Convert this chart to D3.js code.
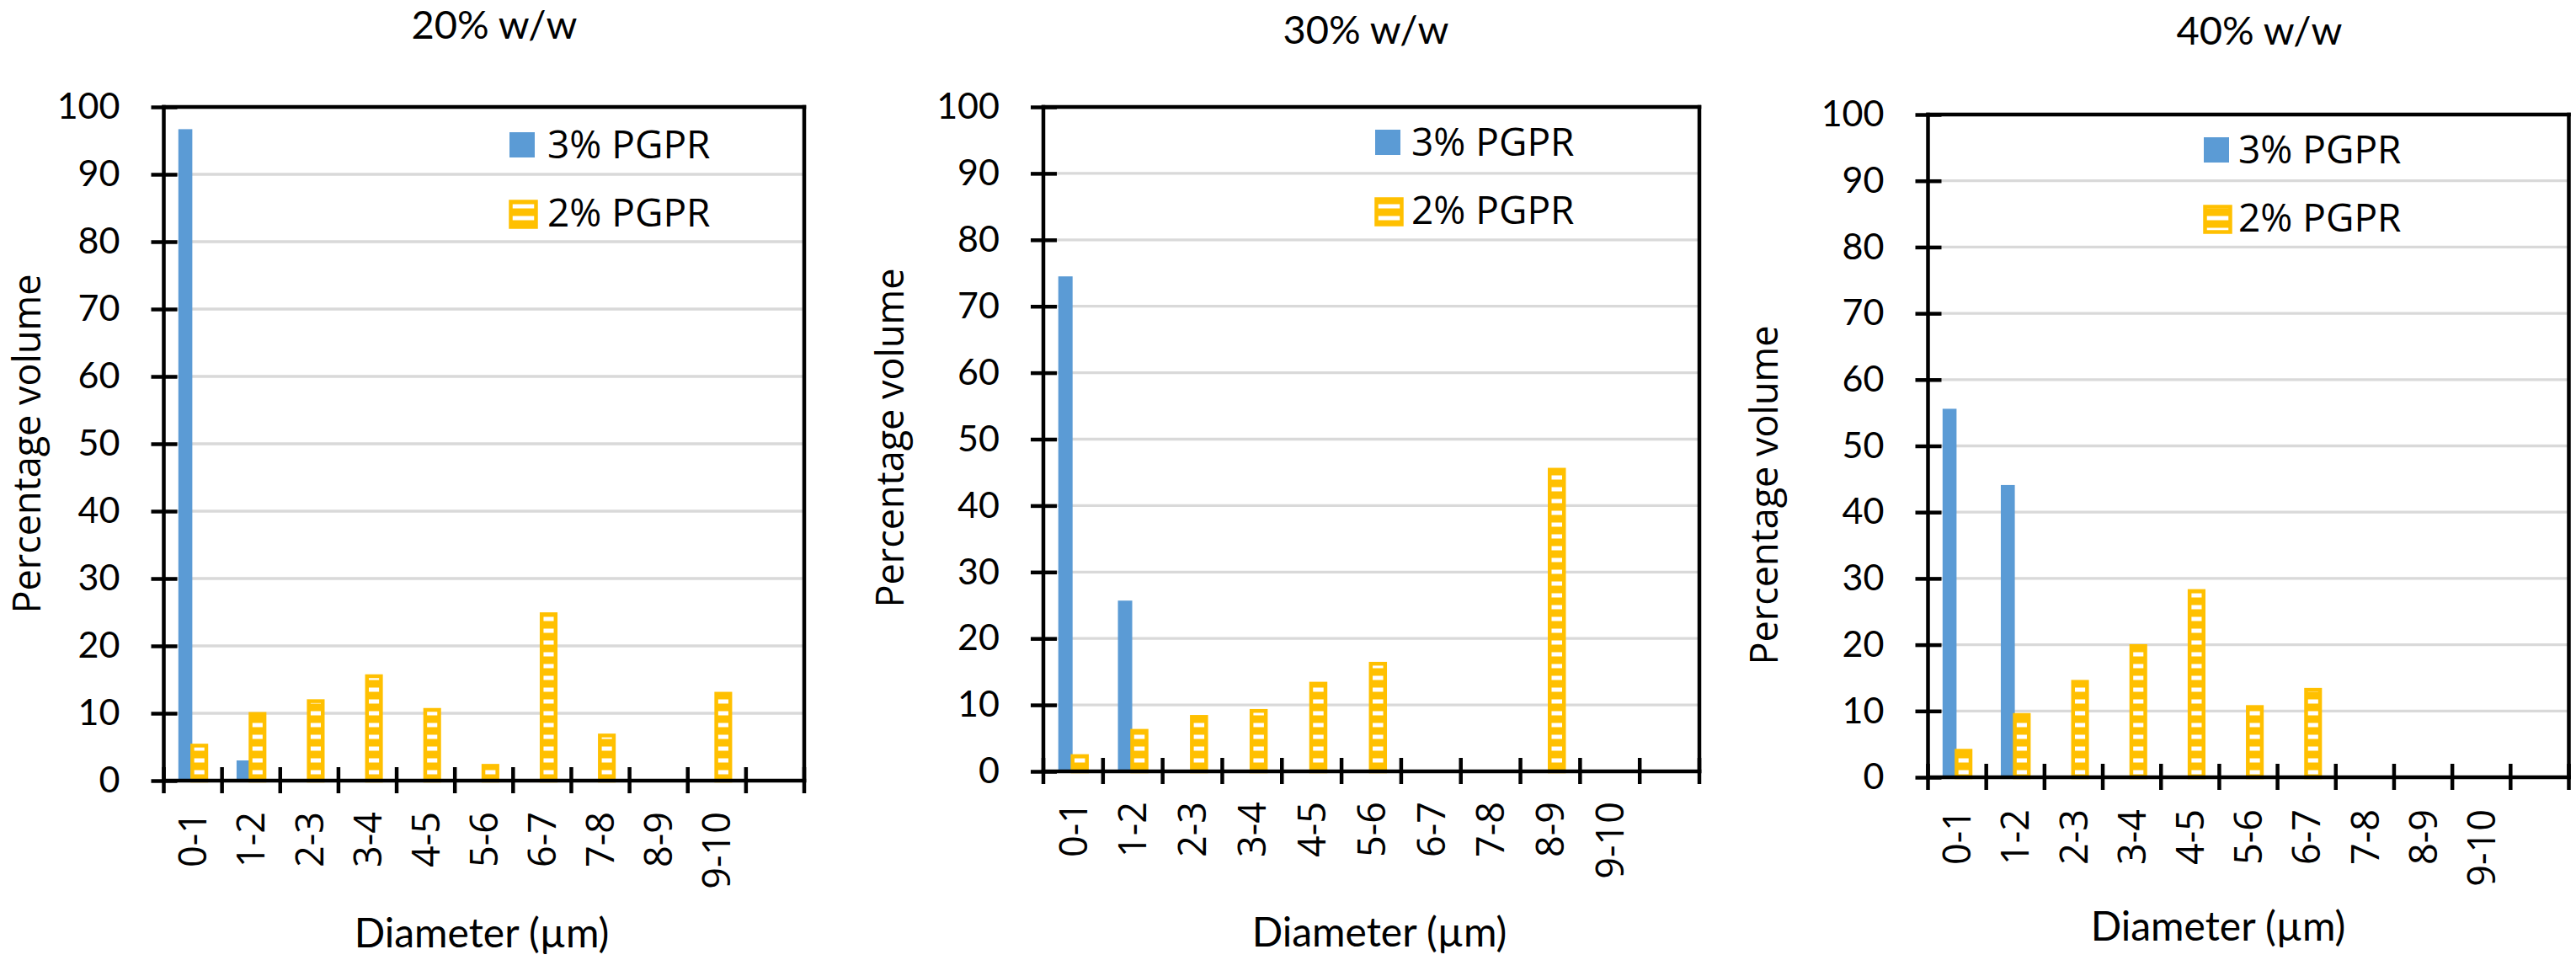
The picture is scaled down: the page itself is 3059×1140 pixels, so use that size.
<!DOCTYPE html>
<html>
<head>
<meta charset="utf-8">
<script src="https://cdn.jsdelivr.net/npm/d3@7"></script>
<style>
  body { margin: 0; background: #fff; }
  svg { display: block; background: #fff; }
</style>
</head>
<body>
<svg id="chart"></svg>
<script>
// 1: DATA
const categories = ["0-1", "1-2", "2-3", "3-4", "4-5", "5-6", "6-7", "7-8", "8-9", "9-10"];
const seriesNames = ["3% PGPR", "2% PGPR"];
const panelTitles = ["20% w/w", "30% w/w", "40% w/w"];
const yTicks = [0, 10, 20, 30, 40, 50, 60, 70, 80, 90, 100];

const pgpr3_20 = [96.7, 3.0, 0, 0, 0, 0, 0, 0, 0, 0];
const pgpr2_20 = [5.2, 9.9, 11.8, 15.5, 10.5, 2.2, 24.7, 6.7, 0, 12.9];

const pgpr3_30 = [74.5, 25.7, 0, 0, 0, 0, 0, 0, 0, 0];
const pgpr2_30 = [2.3, 6.1, 8.2, 9.1, 13.2, 16.2, 0, 0, 45.4, 0];

const pgpr3_40 = [55.6, 44.1, 0, 0, 0, 0, 0, 0, 0, 0];
const pgpr2_40 = [4.0, 9.4, 14.4, 19.8, 28.1, 10.6, 13.2, 0, 0, 0];

// 2: LAYOUT
const W = 3059, H = 1140;
const blue = "#5B9BD5", gold = "#FFC000", grid = "#D9D9D9";
const lineW = 4.5;

const panels = [
  { title: panelTitles[0], s3: pgpr3_20, s2: pgpr2_20, left: 194.5, right: 955, top: 127, bottom: 927,
    titleX: 587, titleY: 46, yTitleX: 48, yTitleY: 527, xLabelY: 964, xTitleX: 572, xTitleY: 1125,
    legX: 605, legY: 157, legTextX: 650 },
  { title: panelTitles[1], s3: pgpr3_30, s2: pgpr2_30, left: 1239, right: 2018, top: 127, bottom: 916,
    titleX: 1622, titleY: 52, yTitleX: 1073, yTitleY: 520, xLabelY: 952, xTitleX: 1638, xTitleY: 1124,
    legX: 1633, legY: 154, legTextX: 1676 },
  { title: panelTitles[2], s3: pgpr3_40, s2: pgpr2_40, left: 2289.5, right: 3050.5, top: 136, bottom: 923,
    titleX: 2683, titleY: 53, yTitleX: 2111, yTitleY: 588, xLabelY: 961, xTitleX: 2634, xTitleY: 1117,
    legX: 2617, legY: 163, legTextX: 2658 }
];

const svg = d3.select("#chart").attr("width", W).attr("height", H);

// ladder-like pattern of the 2% series
const defs = svg.append("defs");
const pat = defs.append("pattern")
  .attr("id", "ladder")
  .attr("patternUnits", "userSpaceOnUse")
  .attr("width", 40)
  .attr("height", 14);
pat.append("rect").attr("width", 40).attr("height", 14).attr("fill", gold);
pat.append("rect").attr("y", 4.5).attr("width", 40).attr("height", 5).attr("fill", "#fff");

const slots = categories.concat([""]);   // Excel leaves one empty slot at the end

panels.forEach(p => {
  const g = svg.append("g");

  // 3: SCALES
  const x0 = d3.scaleBand().domain(slots).range([p.left, p.right]);
  const bw = x0.bandwidth();
  const x1 = d3.scaleBand().domain(seriesNames).range([0.25 * bw, 0.73 * bw]);
  const y = d3.scaleLinear().domain([0, 100]).range([p.bottom, p.top]);

  // gridlines
  g.selectAll(".grid")
    .data(yTicks.filter(t => t > 0 && t < 100))
    .join("line")
    .attr("x1", p.left).attr("x2", p.right)
    .attr("y1", d => y(d)).attr("y2", d => y(d))
    .attr("stroke", grid).attr("stroke-width", 3.3);

  // 4: BARS
  const rows = [];
  categories.forEach((c, i) => {
    rows.push({ cat: c, series: seriesNames[0], value: p.s3[i] });
    rows.push({ cat: c, series: seriesNames[1], value: p.s2[i] });
  });

  g.selectAll(".bar")
    .data(rows.filter(d => d.value > 0))
    .join("rect")
    .attr("x", d => x0(d.cat) + x1(d.series))
    .attr("width", x1.bandwidth())
    .attr("y", d => y(d.value))
    .attr("height", d => y(0) - y(d.value))
    .attr("fill", d => d.series === seriesNames[0] ? blue : "url(#ladder)")
    .attr("stroke", d => d.series === seriesNames[0] ? "none" : gold)
    .attr("stroke-width", lineW);

  // 5: AXES
  const yAxis = g.append("g")
    .attr("transform", `translate(${p.left},0)`)
    .call(d3.axisLeft(y).tickValues(yTicks).tickSize(15).tickPadding(37));
  yAxis.select(".domain").remove();
  yAxis.selectAll(".tick line")
    .attr("x1", 16).attr("stroke", "#000").attr("stroke-width", lineW);
  yAxis.selectAll(".tick text")
    .attr("font-family", "Lato, sans-serif").attr("font-size", 43).attr("fill", "#000");

  const xAxis = g.append("g")
    .attr("transform", `translate(0,${p.bottom})`)
    .call(d3.axisBottom(x0).tickValues(categories).tickSize(0));
  xAxis.select(".domain").remove();
  xAxis.selectAll(".tick text")
    .attr("transform", "rotate(-90)")
    .attr("text-anchor", "end")
    .attr("x", -(p.xLabelY - p.bottom))
    .attr("y", 0)
    .attr("dy", "0.36em")
    .attr("font-family", "'Open Sans', sans-serif")
    .attr("font-size", 45)
    .attr("fill", "#000");

  // category boundary ticks crossing the zero line
  g.selectAll(".xtick")
    .data(d3.range(slots.length + 1))
    .join("line")
    .attr("x1", i => x0.range()[0] + i * x0.step())
    .attr("x2", i => x0.range()[0] + i * x0.step())
    .attr("y1", p.bottom - 16).attr("y2", p.bottom + 15)
    .attr("stroke", "#000").attr("stroke-width", lineW);

  // frame: left axis, zero line, top and right border
  const frame = [
    [p.left, p.top, p.left, p.bottom],
    [p.left, p.bottom, p.right, p.bottom],
    [p.left, p.top, p.right, p.top],
    [p.right, p.top, p.right, p.bottom]
  ];
  g.selectAll(".frame")
    .data(frame)
    .join("line")
    .attr("x1", d => d[0]).attr("y1", d => d[1])
    .attr("x2", d => d[2]).attr("y2", d => d[3])
    .attr("stroke", "#000").attr("stroke-width", lineW)
    .attr("stroke-linecap", "square");

  // 6: TITLES
  g.append("text")
    .attr("x", p.titleX).attr("y", p.titleY)
    .attr("text-anchor", "middle")
    .attr("font-family", "Lato, sans-serif").attr("font-size", 47)
    .text(p.title);

  g.append("text")
    .attr("x", p.xTitleX).attr("y", p.xTitleY)
    .attr("text-anchor", "middle")
    .attr("font-family", "Lato, sans-serif").attr("font-size", 48)
    .text("Diameter (µm)");

  g.append("text")
    .attr("transform", `translate(${p.yTitleX},${p.yTitleY}) rotate(-90)`)
    .attr("text-anchor", "middle")
    .attr("font-family", "'Open Sans', sans-serif").attr("font-size", 45)
    .text("Percentage volume");

  // 7: LEGEND
  const leg = g.append("g");
  seriesNames.forEach((s, i) => {
    const ly = p.legY + i * 81;
    const sq = leg.append("rect")
      .attr("x", p.legX).attr("y", ly)
      .attr("width", 30).attr("height", 30);
    if (i === 0) {
      sq.attr("fill", blue);
    } else {
      sq.attr("x", p.legX + 1.5).attr("y", ly + 1.5)
        .attr("fill", "url(#ladder)").attr("stroke", gold).attr("stroke-width", lineW);
    }
    leg.append("text")
      .attr("x", p.legTextX).attr("y", ly + 31)
      .attr("font-family", "'Open Sans', sans-serif").attr("font-size", 46)
      .text(s);
  });
});
</script>
</body>
</html>
